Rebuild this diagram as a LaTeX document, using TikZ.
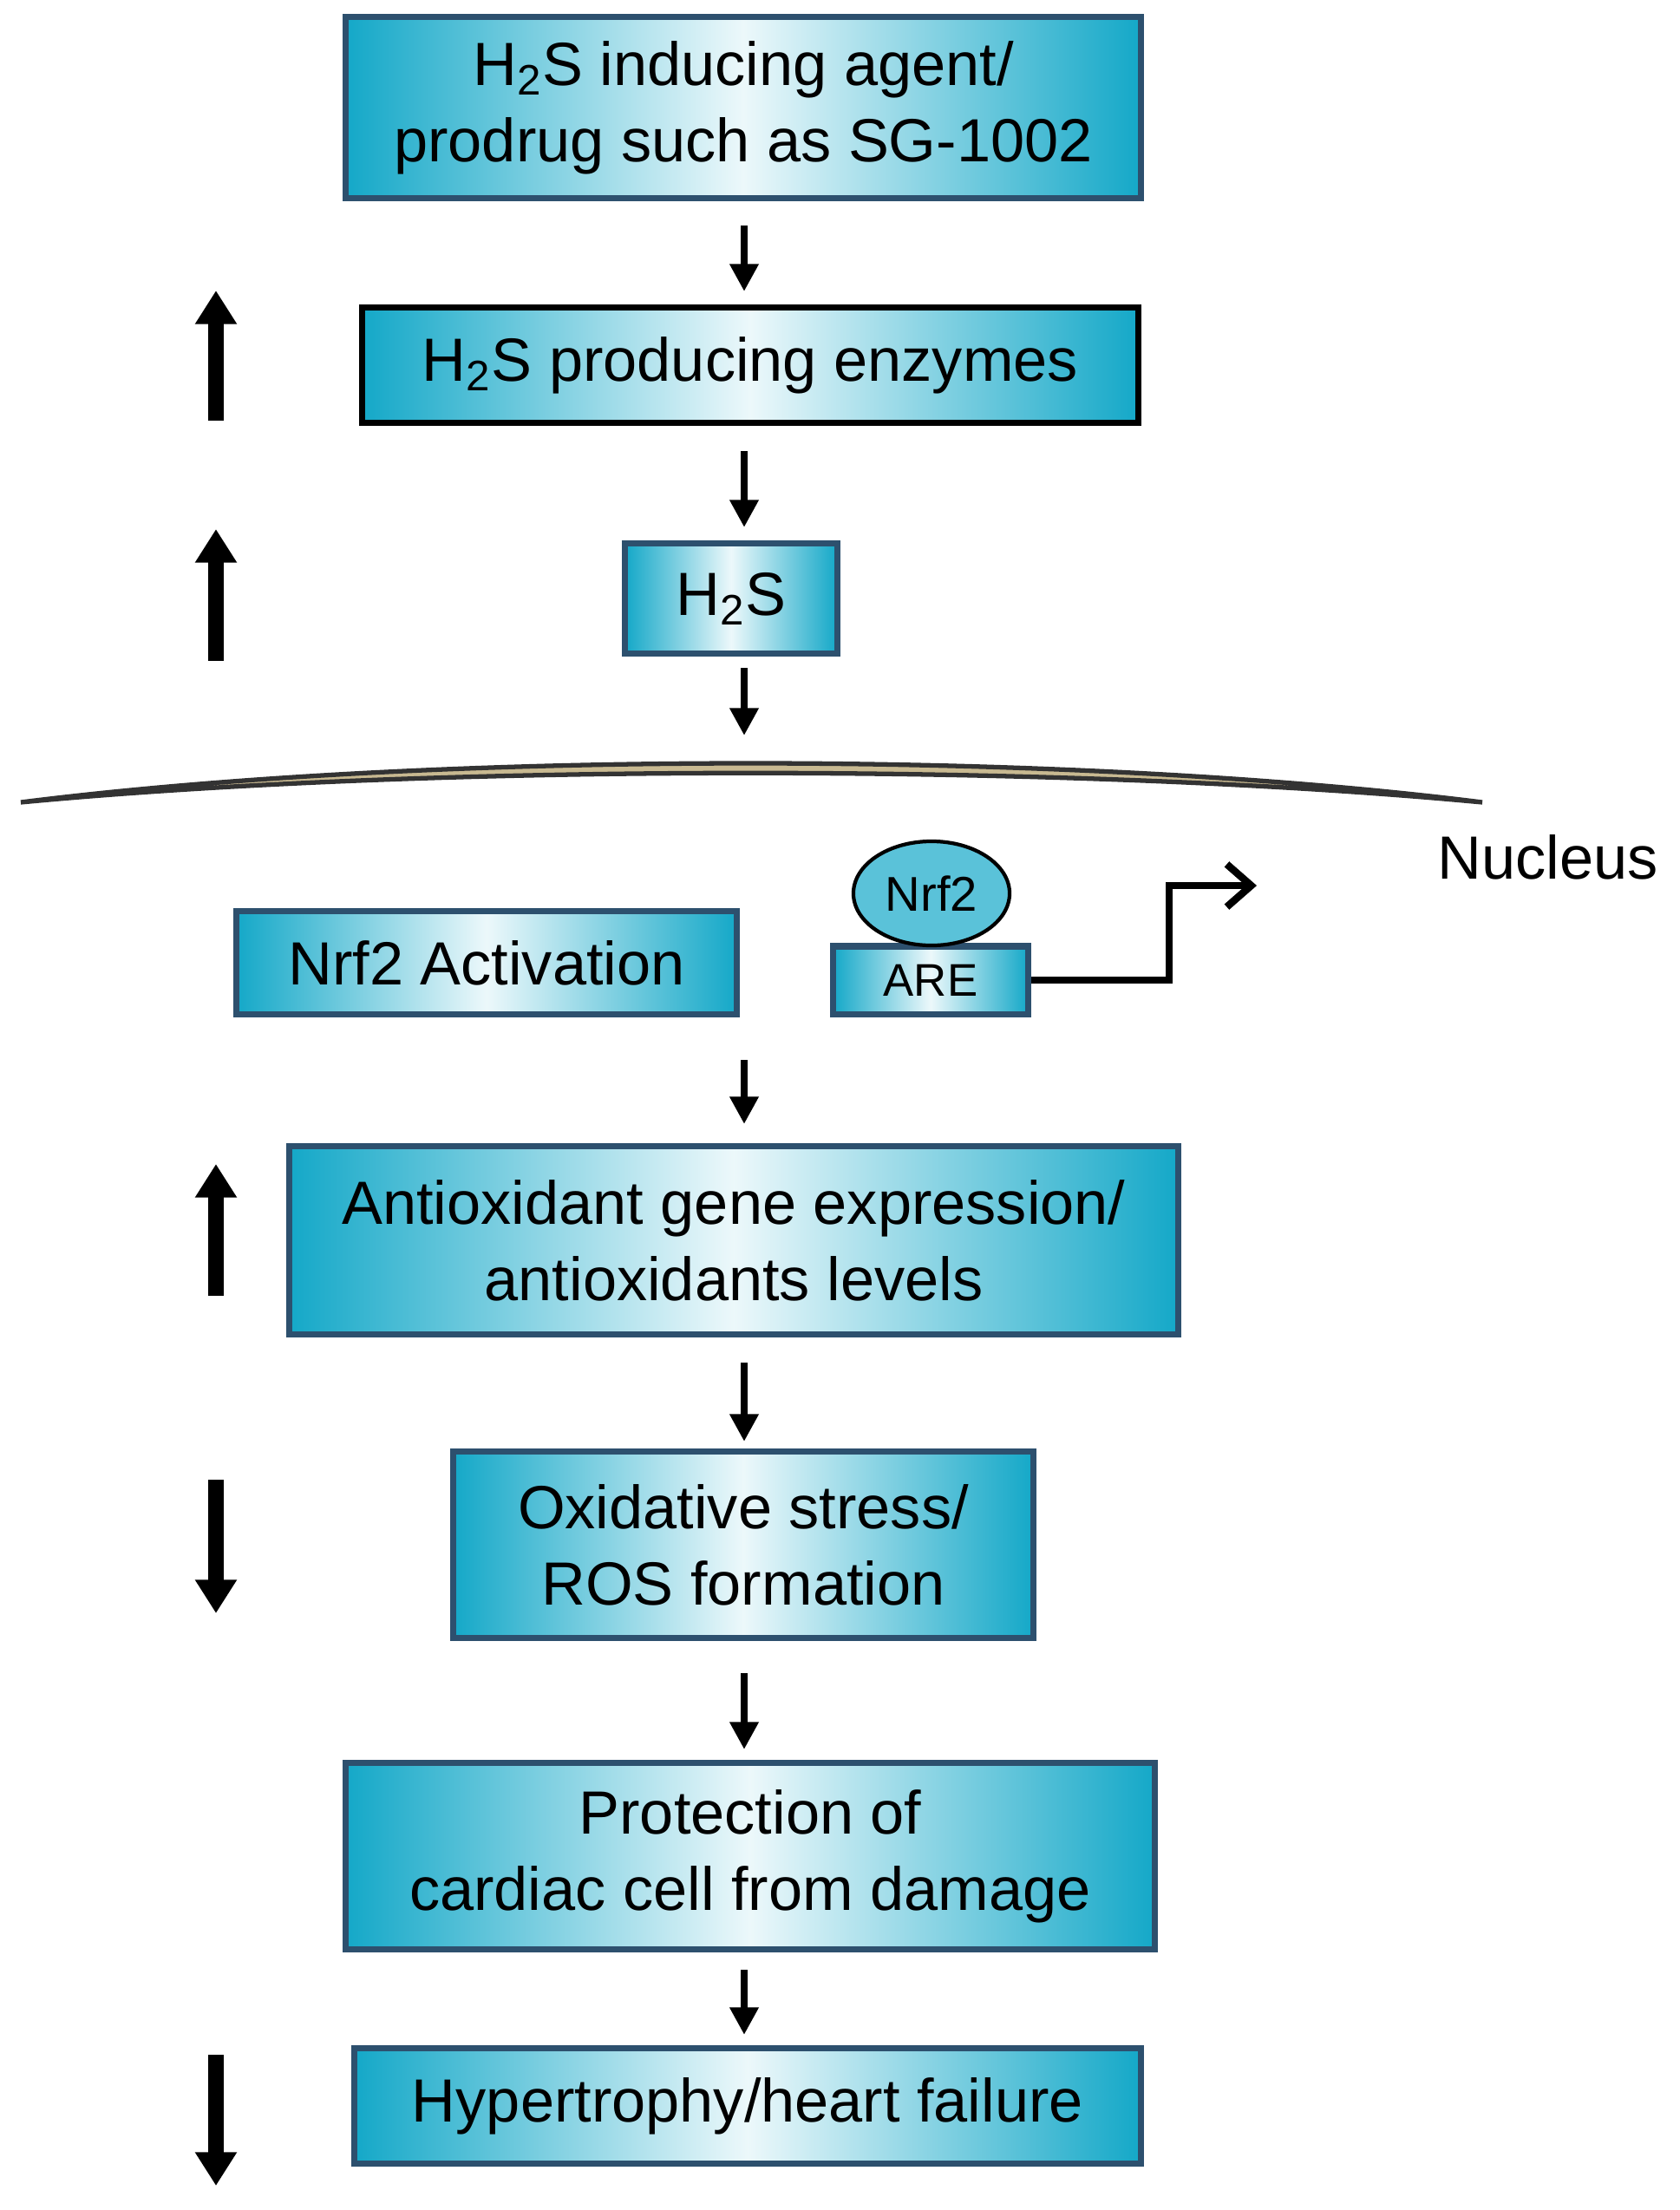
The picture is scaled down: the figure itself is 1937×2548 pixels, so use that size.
\documentclass[tikz,border=0pt]{standalone}
\usepackage{fontspec}
\setmainfont{Liberation Sans}
\usetikzlibrary{arrows.meta,shapes.geometric}
\definecolor{boxc}{RGB}{20,168,200}
\definecolor{edgec}{RGB}{45,80,110}
\definecolor{membr}{RGB}{200,185,145}
\begin{document}
\begin{tikzpicture}[x=0.01cm,y=-0.01cm,
  box/.style={draw=edgec,line width=2pt,left color=boxc,right color=boxc,middle color=boxc!8,
    align=center,font=\fontsize{20}{25}\selectfont,inner sep=0pt},
  flow/.style={line width=2.4pt,-{Triangle[width=9pt,length=9pt]}},
  big/.style={line width=5pt,-{Triangle[width=13pt,length=11pt]}}]
\useasboundingbox (0,0) rectangle (1937,2548);
\node[box,minimum width=916\pgflinewidth*0+9.16cm,minimum height=2.08cm] (a) at (857,124) {H\textsubscript{2}S inducing agent/\\prodrug such as SG-1002};
\node[box,draw=black,minimum width=8.94cm,minimum height=1.33cm] (b) at (865,421) {H\textsubscript{2}S producing enzymes};
\node[box,minimum width=2.44cm,minimum height=1.27cm] (c) at (843,690) {H\textsubscript{2}S};
% membrane
\path[draw=black!80,line width=1.5pt,fill=membr] (24,925) .. controls (500,865) and (1230,865) .. (1709,925)
  .. controls (1230,880) and (500,880) .. (24,925) -- cycle;
\node[font=\fontsize{20}{24}\selectfont,anchor=west] (nuc) at (1645,988) {Nucleus};
\node[box,minimum width=5.77cm,minimum height=1.19cm] (d) at (561,1110) {Nrf2 Activation};
\node[box,minimum width=2.25cm,minimum height=0.78cm,font=\fontsize{15}{18}\selectfont] (are) at (1073,1130) {ARE};
\node[ellipse,draw=black,line width=1.2pt,fill=boxc!70,minimum width=1.8cm,minimum height=1.2cm,inner sep=0pt,font=\fontsize{16}{18}\selectfont] (nrf) at (1074,1030) {Nrf2};
\coordinate (t) at (1449,1021);
\draw[line width=2.4pt,-{Straight Barb[length=8pt,width=14pt]}] (are.east) -- (1348,1130) -- (1348,1021) -- (t);
\node[box,minimum width=10.25cm,minimum height=2.16cm] (e) at (846,1430) {Antioxidant gene expression/\\antioxidants levels};
\node[box,minimum width=6.69cm,minimum height=2.14cm] (f) at (857,1781) {Oxidative stress/\\ROS formation};
\node[box,minimum width=9.33cm,minimum height=2.15cm] (g) at (865,2140) {Protection of\\cardiac cell from damage};
\node[box,minimum width=9.06cm,minimum height=1.33cm] (h) at (862,2428) {Hypertrophy/heart failure};
% flow arrows
\coordinate (m1) at (858,848); \coordinate (m2) at (858,1222);
\draw[flow] (858,260) -- (858,336);
\draw[flow] (858,520) -- (858,608);
\draw[flow] (858,770) -- (m1);
\draw[flow] (m2) -- (858,1296);
\draw[flow] (858,1571) -- (858,1662);
\draw[flow] (858,1929) -- (858,2017);
\draw[flow] (858,2271) -- (858,2346);
% side arrows
\draw[big] (249,485) -- (249,335);
\draw[big] (249,762) -- (249,610);
\draw[big] (249,1494) -- (249,1342);
\draw[big] (249,1706) -- (249,1860);
\draw[big] (249,2369) -- (249,2520);
\end{tikzpicture}
\end{document}
